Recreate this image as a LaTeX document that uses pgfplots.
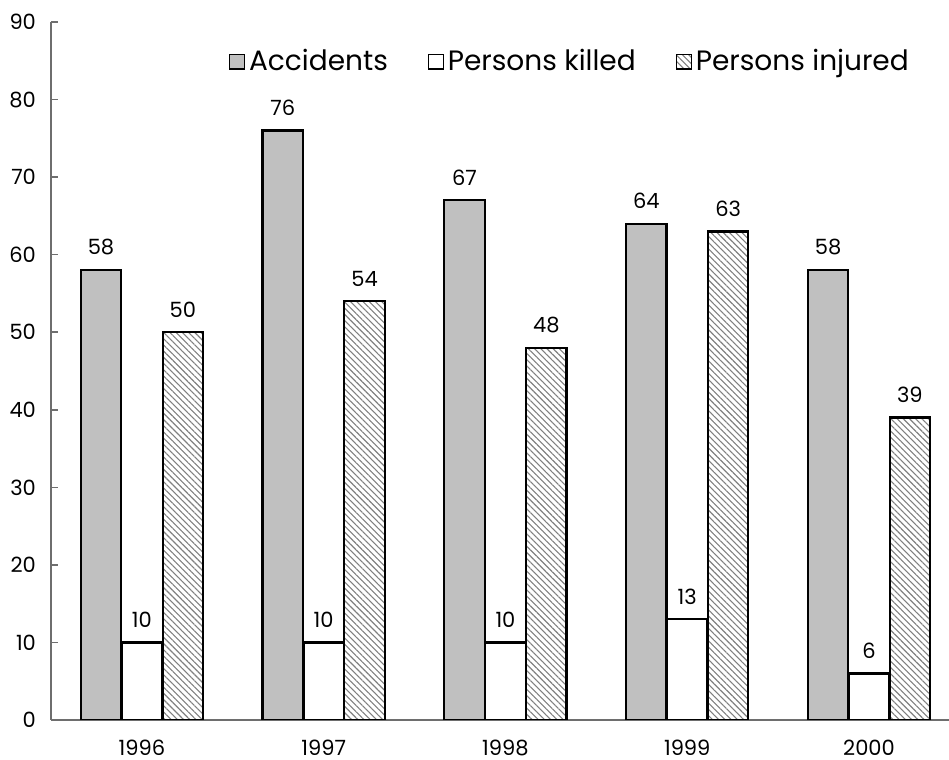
\documentclass[border=0pt]{standalone}
\usepackage{fontspec}
\setmainfont{Poppins}
\usepackage{pgfplots}
\pgfplotsset{compat=1.18}
\usetikzlibrary{patterns.meta}
\definecolor{accgray}{RGB}{192,192,192}
\definecolor{axgray}{RGB}{110,110,110}
\begin{document}
\begin{tikzpicture}
\begin{axis}[
  at={(0,0)}, anchor=south west,
  scale only axis, width=449pt, height=349pt,
  xmin=-0.5, xmax=4.44, ymin=0, ymax=90,
  ytick={0,10,...,90},
  xtick={0,1,2,3,4},
  xticklabels={1996,1997,1998,1999,2000},
  axis x line=bottom, axis y line=left,
  axis line style={axgray, line width=0.8pt, -},
  x axis line style={-}, y axis line style={-},
  xtick style={draw=none},
  ytick style={axgray, line width=0.8pt},
  tick align=inside,
  major tick length=3.5pt,
  /pgf/number format/assume math mode=true,
  tick label style={font=\fontsize{10.5}{12}\selectfont},
  yticklabel style={xshift=-4pt},
  xticklabel style={yshift=-3pt},
  ybar, bar width=0.222,
  every node near coord/.append style={font=\fontsize{10.5}{12}\selectfont, yshift=3.5pt, black},
  nodes near coords,
  legend style={at={(0.579,0.943)}, anchor=center, draw=none, fill=none,
     font=\fontsize{14}{16}\selectfont, legend columns=3,
     /tikz/every even column/.append style={column sep=18pt}},
  legend image code/.code={\draw[#1, line width=0.6pt] (0pt,-3.6pt) rectangle (7.4pt,3.8pt);},
]
\addplot+[bar shift=-0.225, fill=accgray, draw=black, line width=1.1pt] coordinates {(0,58) (1,76) (2,67) (3,64) (4,58)};
\addplot+[bar shift=0, fill=white, draw=black, line width=1.1pt] coordinates {(0,10) (1,10) (2,10) (3,13) (4,6)};
\addplot+[bar shift=0.225, draw=black, line width=1.1pt, pattern={Lines[angle=-45,distance=2.2pt,line width=0.55pt]}, pattern color=gray] coordinates {(0,50) (1,54) (2,48) (3,63) (4,39)};
\legend{Accidents, Persons killed, Persons injured}
\end{axis}
\pgfresetboundingbox
\path[use as bounding box] (-25.5pt,-20pt) rectangle (449pt,360pt);
\end{tikzpicture}
\end{document}
